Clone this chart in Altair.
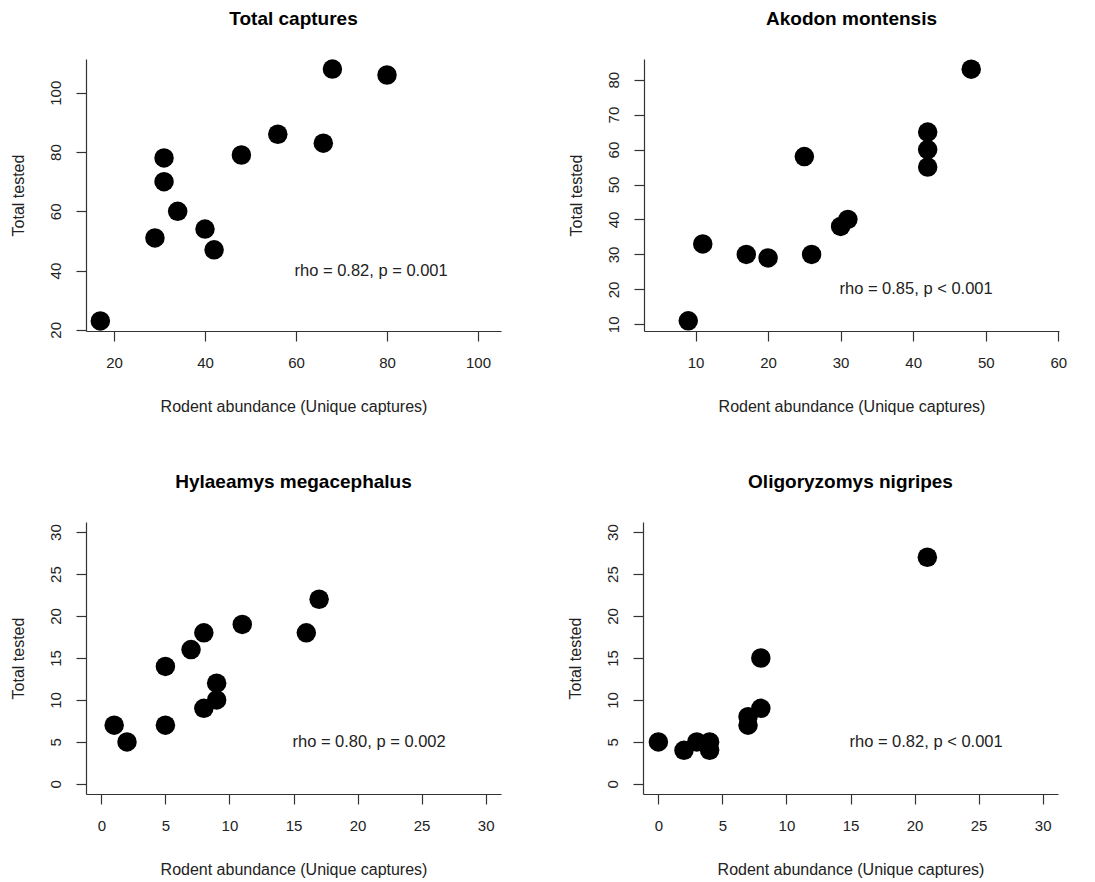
import altair as alt
import pandas as pd

titles = ["Total captures", "Akodon montensis", "Hylaeamys megacephalus", "Oligoryzomys nigripes"]

total_x = [17, 29, 31, 31, 34, 40, 42, 48, 56, 66, 68, 80]
total_y = [23, 51, 78, 70, 60, 54, 47, 79, 86, 83, 108, 106]
akodon_x = [9, 11, 17, 20, 25, 26, 30, 31, 42, 42, 42, 48]
akodon_y = [11, 33, 30, 29, 58, 30, 38, 40, 55, 60, 65, 83]
hyla_x = [1, 2, 5, 5, 7, 8, 8, 9, 9, 11, 16, 17]
hyla_y = [7, 5, 14, 7, 16, 18, 9, 10, 12, 19, 18, 22]
oligo_x = [0, 2, 3, 4, 4, 7, 7, 8, 8, 21]
oligo_y = [5, 4, 5, 5, 4, 7, 8, 9, 15, 27]

stats = ["rho = 0.82, p = 0.001", "rho = 0.85, p < 0.001",
         "rho = 0.80, p = 0.002", "rho = 0.82, p < 0.001"]
stat_x = [76.5, 40.4, 20.9, 20.9]
stat_y = [40, 20, 5, 5]

x_ticks = [[20, 40, 60, 80, 100], [10, 20, 30, 40, 50, 60],
           [0, 5, 10, 15, 20, 25, 30], [0, 5, 10, 15, 20, 25, 30]]
y_ticks = [[20, 40, 60, 80, 100], [10, 20, 30, 40, 50, 60, 70, 80],
           [0, 5, 10, 15, 20, 25, 30], [0, 5, 10, 15, 20, 25, 30]]
x_dom = [[13.85, 105.05], [2.9, 60.1], [-1.2, 31.2], [-1.2, 31.2]]
y_dom = [[19.6, 111.4], [8.1, 85.9], [-1.2, 31.2], [-1.2, 31.2]]

xs = [total_x, akodon_x, hyla_x, oligo_x]
ys = [total_y, akodon_y, hyla_y, oligo_y]

FONT = "Liberation Sans"
TXT = "#222222"


def panel(i):
    df = pd.DataFrame({"x": xs[i], "y": ys[i]})
    xscale = alt.Scale(domain=x_dom[i], nice=False, zero=False)
    yscale = alt.Scale(domain=y_dom[i], nice=False, zero=False)
    xaxis = alt.Axis(values=x_ticks[i], labelOverlap=False, labelFlush=False,
                     title="Rodent abundance (Unique captures)")
    yaxis = alt.Axis(values=y_ticks[i], labelOverlap=False, labelFlush=False,
                     labelAngle=270, labelAlign="center", labelBaseline="bottom",
                     labelSeparation=0, title="Total tested")
    pts = alt.Chart(df).mark_circle(size=380, color="black", opacity=1).encode(
        x=alt.X("x:Q", scale=xscale, axis=xaxis),
        y=alt.Y("y:Q", scale=yscale, axis=yaxis),
    )
    tdf = pd.DataFrame({"x": [stat_x[i]], "y": [stat_y[i]], "t": [stats[i]]})
    txt = alt.Chart(tdf).mark_text(fontSize=16.5, font=FONT, color=TXT).encode(
        x=alt.X("x:Q", scale=xscale, axis=xaxis),
        y=alt.Y("y:Q", scale=yscale, axis=yaxis),
        text="t:N",
    )
    return alt.layer(pts, txt).properties(
        width=415, height=272,
        title=alt.TitleParams(titles[i], font=FONT, fontSize=19, fontWeight="bold",
                              color="black", offset=30, anchor="middle"),
    )


top = alt.hconcat(panel(0), panel(1), spacing=66)
bottom = alt.hconcat(panel(2), panel(3), spacing=66)
chart = alt.vconcat(top, bottom, spacing=59).properties(
    padding={"left": 10, "top": 10, "right": 5, "bottom": 5}
).configure_view(stroke=None).configure_axis(
    grid=False, domainColor="#333333", tickColor="#333333", domainWidth=1.2, tickWidth=1.2,
    labelColor=TXT, titleColor=TXT, labelFont=FONT, titleFont=FONT,
    labelFontSize=15, titleFontSize=16, titleFontWeight="normal",
    tickSize=10,
).configure_axisX(labelPadding=14, titlePadding=28).configure_axisY(
    labelPadding=13, titlePadding=22)

chart.save("out.html", embed_options={"renderer": "svg", "actions": False})
